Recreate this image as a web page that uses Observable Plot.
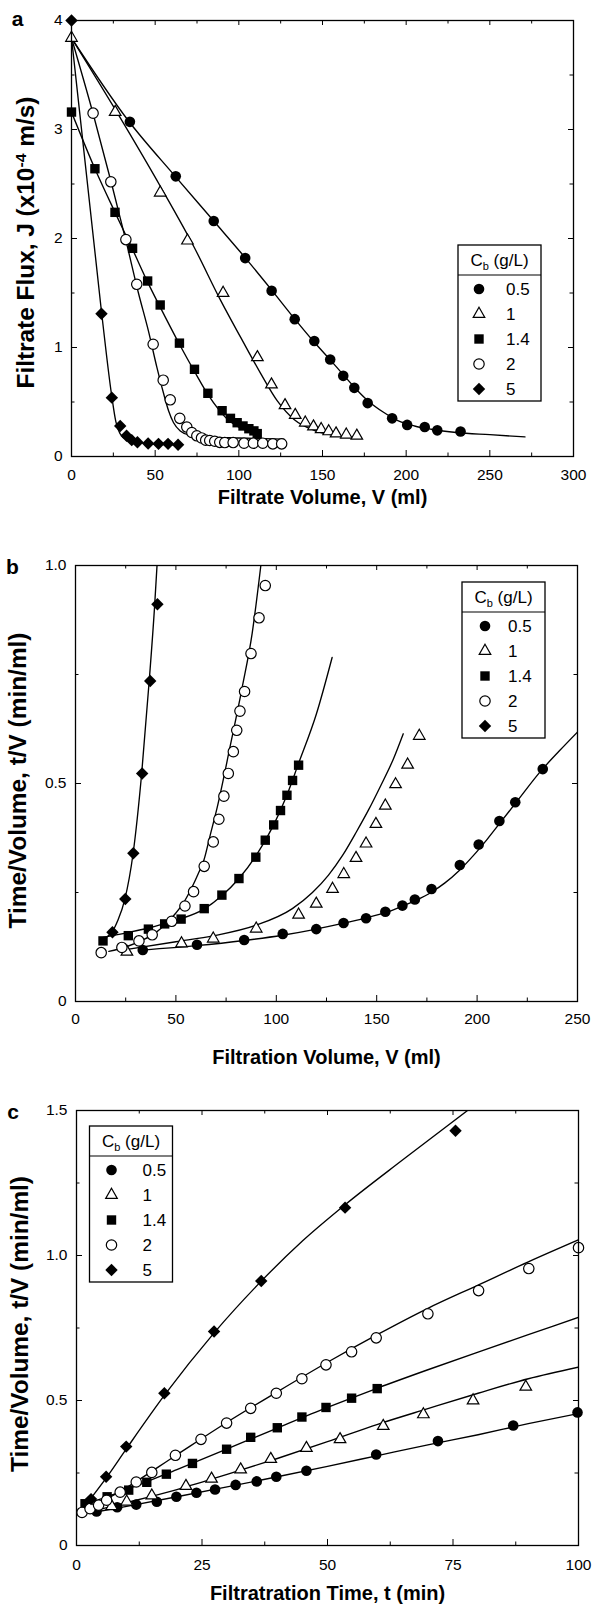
<!DOCTYPE html>
<html>
<head>
<meta charset="utf-8">
<script src="https://cdn.jsdelivr.net/npm/d3@7"></script>
<script src="https://cdn.jsdelivr.net/npm/@observablehq/plot@0.6"></script>
<style>
  body { margin: 0; background: #fff; }
  #wrap { position: relative; width: 593px; height: 1611px; background: #fff; }
  #wrap svg { position: absolute; left: 0; }
</style>
</head>
<body>
<div id="wrap"></div>
<script>
// ---------- series ----------
const concLabels = ["0.5", "1", "1.4", "2", "5"];
const legendTitle = "C|b| (g/L)";

// ---------- panel a: filtrate flux vs volume ----------
const aPts05 = [[34.9,3.07],[62.3,2.57],[85.0,2.16],[103.8,1.82],[119.6,1.52],[133.4,1.26],[145.1,1.06],[154.6,0.89],[162.4,0.74],[169.0,0.63],[177.0,0.49],[191.6,0.35],[200.6,0.29],[211.1,0.27],[218.6,0.24],[232.5,0.23]];
const aPts1 = [[0,3.84],[26.1,3.16],[53.0,2.42],[69.3,1.98],[90.6,1.50],[111.1,0.91],[119.5,0.66],[127.6,0.47],[133.7,0.38],[139.7,0.31],[144.6,0.275],[149.2,0.25],[153.7,0.23],[158.1,0.21],[164.2,0.20],[170.5,0.19]];
const aPts14 = [[0,3.16],[14,2.64],[26,2.24],[36.5,1.91],[45.5,1.61],[53,1.39],[64.5,1.04],[73.5,0.80],[81.5,0.58],[90,0.42],[95,0.35],[99,0.31],[102.5,0.28],[106,0.255],[109,0.235],[111,0.21]];
const aPts2 = [[12.9,3.15],[23.5,2.52],[32.5,1.99],[39,1.58],[48.8,1.03],[54.8,0.70],[59,0.52],[64.7,0.35],[68.9,0.27],[71.9,0.22],[74.9,0.19],[77.7,0.17],[80.2,0.15],[82.6,0.147],[85.6,0.14],[88.6,0.13],[91.6,0.128],[96.6,0.128],[103.1,0.122],[108.7,0.122],[114.3,0.122],[120.3,0.116],[125.6,0.116]];
const aPts5 = [[0,4.0],[17.9,1.31],[24.1,0.54],[29.1,0.28],[32.9,0.19],[36,0.15],[39.4,0.13],[45.8,0.12],[52,0.116],[57.7,0.116],[63.7,0.107]];
const aFit05 = [[0,3.84],[34,3.08],[62,2.57],[85,2.16],[104,1.82],[120,1.52],[133,1.27],[145,1.05],[155,0.88],[163,0.74],[170,0.62],[178,0.50],[186,0.41],[195,0.33],[205,0.28],[215,0.25],[230,0.22],[250,0.20],[271,0.18]];
const aFit1 = [[0,3.84],[25.5,3.20],[53.4,2.47],[73.3,1.92],[89.2,1.43],[101.2,1.09],[113.1,0.76],[123,0.51],[133,0.34],[145,0.24],[159,0.19],[172.8,0.17]];
const aFit14 = [[0,3.16],[14,2.64],[26,2.24],[36.5,1.9],[45.5,1.6],[53,1.37],[64.5,1.03],[73.5,0.78],[81.5,0.57],[88,0.43],[94,0.33],[100,0.27],[106,0.235],[111,0.22]];
const aFit2 = [[0,3.84],[13,3.14],[24,2.5],[33,1.95],[40,1.5],[46,1.15],[51,0.82],[55,0.58],[58,0.42],[61,0.31],[65,0.235],[70,0.2],[80,0.18],[100,0.17],[127,0.16]];
const aFit5 = [[0,3.84],[17.9,1.33],[24,0.56],[26.5,0.32],[29,0.21],[33,0.155],[40,0.13],[50,0.115],[64,0.105]];
const aXTicks = [0, 50, 100, 150, 200, 250, 300];
const aXMinor = [25, 75, 125, 175, 225, 275];
const aYTicks = [0, 1, 2, 3, 4];
const aYMinor = [0.5, 1.5, 2.5, 3.5];
const aXTitle = "Filtrate Volume, V (ml)";
const aYTitle = "Filtrate Flux, J (x10-4 m/s)";

// ---------- panel b: t/V vs volume ----------
const bPts05 = [[33.5,0.118],[60.5,0.130],[84,0.141],[103.2,0.155],[119.9,0.166],[133.5,0.180],[144.7,0.191],[154.3,0.206],[162.8,0.220],[169,0.234],[177.3,0.258],[191.4,0.313],[200.8,0.360],[211.1,0.414],[219,0.457],[232.7,0.533]];
const bPts1 = [[25.6,0.114],[52.8,0.133],[68.6,0.144],[90,0.167],[111.1,0.199],[119.9,0.224],[128,0.258],[133.6,0.292],[139.7,0.329],[144.7,0.362],[149.6,0.407],[154.3,0.449],[159.4,0.498],[165.4,0.543],[171.2,0.609]];
const bPts14 = [[13.7,0.139],[26.3,0.151],[36.3,0.166],[44.4,0.178],[52.6,0.189],[64.1,0.213],[72.9,0.244],[81.4,0.282],[89.8,0.331],[94.5,0.370],[98.7,0.405],[102.1,0.438],[105.3,0.473],[108.1,0.507],[111.1,0.542]];
const bPts2 = [[12.8,0.112],[23.1,0.124],[31.6,0.139],[38.2,0.153],[47.9,0.184],[54.5,0.219],[58.8,0.252],[64.1,0.310],[68.6,0.366],[71.4,0.418],[73.9,0.471],[76.1,0.523],[78.6,0.573],[80.3,0.622],[81.9,0.666],[84.2,0.711],[87.4,0.798],[91.4,0.880],[94.5,0.954]];
const bPts5 = [[18.4,0.159],[24.8,0.235],[28.8,0.34],[33.2,0.523],[37.2,0.735],[40.8,0.911]];
const bFit05 = [[33.5,0.118],[60,0.128],[84,0.140],[103,0.152],[120,0.166],[133,0.179],[145,0.192],[155,0.205],[163,0.219],[170,0.233],[177,0.25],[184,0.272],[191,0.3],[198,0.334],[205,0.372],[212,0.413],[220,0.46],[232,0.53],[241,0.575],[250,0.618]];
const bFit1 = [[25,0.119],[50,0.137],[69,0.151],[90,0.175],[108,0.213],[118,0.25],[126,0.29],[133,0.335],[140,0.39],[146,0.44],[152,0.495],[158,0.553],[163.2,0.614]];
const bFit14 = [[13.7,0.147],[26,0.158],[36,0.168],[44,0.178],[52.6,0.19],[64,0.212],[73,0.243],[81.4,0.282],[90,0.335],[98.7,0.405],[105,0.47],[111,0.545],[120,0.66],[127.8,0.789]];
const bFit2 = [[16.6,0.115],[25,0.125],[33,0.14],[40,0.158],[45,0.178],[50,0.203],[54,0.228],[58,0.262],[61,0.292],[64,0.325],[67,0.38],[70.6,0.446],[77,0.585],[83,0.72],[88,0.845],[92.3,1.0]];
const bFit5 = [[15.6,0.148],[18.3,0.16],[21,0.185],[24.6,0.235],[28.7,0.34],[32.9,0.52],[36.7,0.735],[39.3,0.9],[40.6,1.0]];
const bXTicks = [0, 50, 100, 150, 200, 250];
const bXMinor = [25, 75, 125, 175, 225];
const bYTicks = [0, 0.5, 1.0];
const bYMinor = [0.25, 0.75];
const bXTitle = "Filtration Volume, V (ml)";
const bYTitle = "Time/Volume, t/V (min/ml)";

// ---------- panel c: t/V vs time ----------
const cPts05 = [[4,0.117],[8.1,0.132],[11.9,0.141],[16,0.151],[19.9,0.168],[23.9,0.182],[27.6,0.193],[31.7,0.209],[35.9,0.221],[39.8,0.237],[45.8,0.258],[59.7,0.314],[72,0.360],[87,0.414],[99.8,0.459]];
const cPts1 = [[7,0.135],[10,0.151],[15,0.172],[21.8,0.205],[26.9,0.230],[32.7,0.262],[38.7,0.298],[45.8,0.336],[52.5,0.366],[61.1,0.412],[69.1,0.452],[79,0.500],[89.5,0.547]];
const cPts14 = [[1.7,0.144],[6.1,0.168],[10.4,0.191],[14,0.218],[17.9,0.246],[23.1,0.283],[29.9,0.332],[34.7,0.373],[40,0.406],[44.9,0.443],[49.7,0.476],[54.8,0.508],[59.9,0.541]];
const cPts2 = [[1.1,0.114],[2.7,0.127],[4.4,0.139],[6,0.156],[8.7,0.184],[11.9,0.219],[15,0.252],[19.7,0.311],[24.8,0.366],[29.9,0.422],[34.7,0.473],[39.8,0.525],[44.9,0.575],[49.7,0.623],[54.8,0.668],[59.7,0.716],[70,0.799],[80.1,0.879],[90.1,0.955],[100,1.027]];
const cPts5 = [[2.9,0.16],[5.9,0.237],[9.9,0.341],[17.5,0.525],[27.4,0.738],[36.8,0.912],[53.5,1.165],[75.5,1.430]];
const cFit05 = [[3,0.113],[10,0.135],[20,0.168],[30,0.202],[40,0.237],[50,0.273],[60,0.31],[70,0.347],[80,0.382],[90,0.42],[100,0.455]];
const cFit1 = [[3.5,0.12],[10,0.148],[20,0.193],[30,0.245],[40,0.3],[50,0.358],[60,0.418],[70,0.472],[80,0.525],[90,0.575],[100,0.615]];
const cFit14 = [[1.7,0.142],[10,0.193],[20,0.262],[30,0.333],[40,0.405],[50,0.476],[60,0.543],[70,0.606],[80,0.667],[90,0.727],[100,0.787]];
const cFit2 = [[1,0.113],[5,0.15],[10,0.2],[20,0.313],[30,0.425],[40,0.53],[50,0.632],[60,0.728],[70,0.818],[80,0.898],[90,0.978],[100,1.054]];
const cFit5 = [[2.3,0.15],[6,0.235],[10,0.335],[17.6,0.52],[27.5,0.735],[37,0.915],[45,1.05],[53.5,1.175],[65,1.33],[77.9,1.5]];
const cXTicks = [0, 25, 50, 75, 100];
const cXMinor = [12.5, 37.5, 62.5, 87.5];
const cYTicks = [0, 0.5, 1.0, 1.5];
const cYMinor = [0.25, 0.75, 1.25];
const cXTitle = "Filtratration Time, t (min)";
const cYTitle = "Time/Volume, t/V (min/ml)";

// ---------- styling ----------
const FONT = "'Liberation Sans', Arial, Helvetica, sans-serif";
const W = 593;
const markerSymbols = ["circle", "triangle", "square", "circle", "diamond2"];
const markerFills = ["black", "white", "black", "white", "black"];
const markerR = [5.3, 4.3, 5.3, 5.2, 5.6];
const d3Sym = {circle: d3.symbolCircle, triangle: d3.symbolTriangle, square: d3.symbolSquare, diamond2: d3.symbolDiamond2 || d3.symbolDiamond};

function makePanel(cfg) {
  const {top, height, ml, mr, mt, mb} = cfg;
  const pw = W - ml - mr, ph = height - mt - mb;
  const marks = [];
  cfg.fits.forEach(f => marks.push(Plot.line(f, {x: d => d[0], y: d => d[1], curve: "monotone-x", stroke: "black", strokeWidth: 1.35, clip: true})));
  cfg.pts.forEach((p, i) => marks.push(Plot.dot(p, {
    x: d => d[0], y: d => d[1], symbol: markerSymbols[i], r: markerR[i],
    fill: markerFills[i], stroke: markerFills[i] === "white" ? "black" : "none", strokeWidth: 1.2
  })));
  const tk = (vals, len, side) => {
    const o = {x: d => d, stroke: "black", strokeWidth: 1};
    if (side === "bottom") return Plot.ruleX(vals, {...o, insetTop: ph - len});
    if (side === "top") return Plot.ruleX(vals, {...o, insetBottom: ph - len});
    const oy = {y: d => d, stroke: "black", strokeWidth: 1};
    if (side === "left") return Plot.ruleY(vals, {...oy, insetRight: pw - len});
    return Plot.ruleY(vals, {...oy, insetLeft: pw - len});
  };
  marks.push(
    tk(cfg.xTicks, 6, "bottom"), tk(cfg.xMinor, 3.5, "bottom"),
    tk(cfg.xTicks, 5, "top"), tk(cfg.xMinor, 3.5, "top"),
    tk(cfg.yTicks, 6, "left"), tk(cfg.yMinor, 3.5, "left"),
    tk(cfg.yTicks, 5, "right"), tk(cfg.yMinor, 3.5, "right"),
    Plot.frame({stroke: "black", strokeWidth: 1.3}),
    Plot.axisX(cfg.xTicks, {anchor: "bottom", tickSize: 0, tickPadding: cfg.xPad, fontSize: 15.5, label: null, tickFormat: d => String(d)}),
    Plot.axisY(cfg.yTicks, {anchor: "left", tickSize: 0, tickPadding: 9, fontSize: 15.5, label: null, tickFormat: cfg.yFmt}),
    Plot.text([cfg.xTitle], {text: d => d, frameAnchor: "bottom", dy: cfg.xTitleDy, fontSize: 20, fontWeight: "bold", lineAnchor: "middle", textAnchor: "middle"}),
    Plot.text([cfg.yTitle], {text: d => d, frameAnchor: "left", dx: cfg.yTitleX - ml, dy: cfg.yTitleDy, rotate: -90, fontSize: 23, fontWeight: "bold", lineAnchor: "middle", textAnchor: "middle"}),
    Plot.text([cfg.letter], {text: d => d, frameAnchor: "top-left", dx: cfg.letterX - ml, dy: cfg.letterY - mt, fontSize: 21, fontWeight: "bold", lineAnchor: "middle", textAnchor: "middle"})
  );
  const svg = Plot.plot({
    width: W, height, marginLeft: ml, marginRight: mr, marginTop: mt, marginBottom: mb,
    x: {domain: cfg.xDomain, axis: null},
    y: {domain: cfg.yDomain, axis: null},
    style: {fontFamily: FONT, fontSize: "15.5px", color: "black", background: "white", overflow: "visible"},
    marks
  });
  svg.style.top = top + "px";
  // stretch the vertical title to the reference length
  const yt = Array.from(svg.querySelectorAll("text")).find(e => e.textContent === cfg.yTitle);
  if (yt) {
    if (cfg.superscript) {
      const [pre, post] = cfg.yTitle.split(cfg.superscript);
      yt.textContent = "";
      const ns = "http://www.w3.org/2000/svg";
      const add = (s, attrs) => {
        const ts = document.createElementNS(ns, "tspan");
        for (const k in attrs) ts.setAttribute(k, attrs[k]);
        ts.textContent = s; yt.appendChild(ts);
      };
      add(pre, {});
      add(cfg.superscript, {"font-size": 15, dy: -8});
      add(post, {dy: 8});
    }
    yt.setAttribute("textLength", cfg.yTitleLen);
    yt.setAttribute("lengthAdjust", "spacingAndGlyphs");
  }
  // legend (inside the chart's svg)
  const L = cfg.legend;
  const g = d3.select(svg).append("g").attr("font-family", FONT).attr("font-size", 17).attr("fill", "black").attr("text-anchor", "start");
  const LW = 83, LH = 156;
  g.append("rect").attr("x", L.x).attr("y", L.y).attr("width", LW).attr("height", LH)
    .attr("fill", "white").attr("stroke", "black").attr("stroke-width", 1.3);
  g.append("line").attr("x1", L.x).attr("x2", L.x + LW).attr("y1", L.y + 30).attr("y2", L.y + 30)
    .attr("stroke", "black").attr("stroke-width", 1.2);
  const parts = legendTitle.split("|");
  const hdr = g.append("text").attr("x", L.x + LW / 2).attr("y", L.y + 15.5).attr("dy", "0.35em").attr("text-anchor", "middle");
  hdr.append("tspan").text(parts[0]);
  hdr.append("tspan").attr("font-size", 11).attr("dy", 4).text(parts[1]);
  hdr.append("tspan").attr("dy", -4).text(parts[2]);
  concLabels.forEach((lab, i) => {
    const y = L.y + 44 + 25 * i;
    g.append("path").attr("transform", `translate(${L.x + L.sym},${y})`)
      .attr("d", d3.symbol(d3Sym[markerSymbols[i]], Math.PI * markerR[i] * markerR[i])())
      .attr("fill", markerFills[i]).attr("stroke", markerFills[i] === "white" ? "black" : "none").attr("stroke-width", 1.2);
    g.append("text").attr("x", L.x + L.txt).attr("y", y).attr("dy", "0.35em").attr("text-anchor", "start").text(lab);
  });
  return svg;
}

const fmt1 = d => d === 0 ? "0" : d.toFixed(1);
const wrap = document.getElementById("wrap");

const svgA = makePanel({
  top: 0, height: 530, ml: 71, mr: 20, mt: 20, mb: 74,
  xDomain: [0, 300], yDomain: [0, 4],
  pts: [aPts05, aPts1, aPts14, aPts2, aPts5], fits: [aFit05, aFit1, aFit14, aFit2, aFit5],
  xTicks: aXTicks, xMinor: aXMinor, yTicks: aYTicks, yMinor: aYMinor, yFmt: d => String(d),
  xPad: 12.5, xTitle: aXTitle, xTitleDy: 41, yTitle: aYTitle, yTitleX: 26.5, yTitleDy: 4, yTitleLen: 292, superscript: "-4",
  letter: "a", letterX: 17, letterY: 19,
  legend: {x: 458, y: 245, sym: 21, txt: 48}
});
const svgB = makePanel({
  top: 530, height: 540, ml: 75, mr: 16, mt: 35, mb: 69,
  xDomain: [0, 250], yDomain: [0, 1],
  pts: [bPts05, bPts1, bPts14, bPts2, bPts5], fits: [bFit05, bFit1, bFit14, bFit2, bFit5],
  xTicks: bXTicks, xMinor: bXMinor, yTicks: bYTicks, yMinor: bYMinor, yFmt: fmt1,
  xPad: 11.5, xTitle: bXTitle, xTitleDy: 56, yTitle: bYTitle, yTitleX: 18.6, yTitleDy: -3, yTitleLen: 296,
  letter: "b", letterX: 12, letterY: 567 - 530,
  legend: {x: 462, y: 582 - 530, sym: 23, txt: 46}
});
const svgC = makePanel({
  top: 1070, height: 541, ml: 76, mr: 15, mt: 40, mb: 66,
  xDomain: [0, 100], yDomain: [0, 1.5],
  pts: [cPts05, cPts1, cPts14, cPts2, cPts5], fits: [cFit05, cFit1, cFit14, cFit2, cFit5],
  xTicks: cXTicks, xMinor: cXMinor, yTicks: cYTicks, yMinor: cYMinor, yFmt: fmt1,
  xPad: 13.5, xTitle: cXTitle, xTitleDy: 48.5, yTitle: cYTitle, yTitleX: 19.7, yTitleDy: -4, yTitleLen: 296,
  letter: "c", letterX: 12.7, letterY: 1112 - 1070,
  legend: {x: 89.5, y: 1126 - 1070, sym: 22, txt: 53}
});

wrap.append(svgA, svgB, svgC);
</script>
</body>
</html>
